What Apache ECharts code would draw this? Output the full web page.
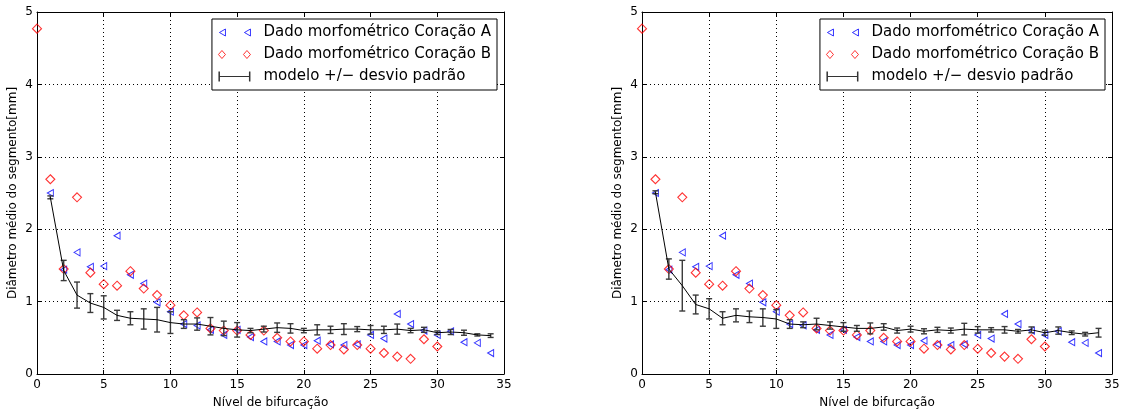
<!DOCTYPE html>
<html><head><meta charset="utf-8">
<script src="https://cdn.jsdelivr.net/npm/echarts@6/dist/echarts.min.js"></script>
<style>html,body{margin:0;padding:0;background:#fff}#c{width:1123px;height:414px}</style>
</head><body><div id="c"></div><script>
// ---- data ----
const levelsA = [1,2,3,4,5,6,7,8,9,10,11,12,13,14,15,16,17,18,19,20,21,22,23,24,25,26,27,28,29,30,31,32,33,34];
const heartA  = [2.50,1.44,1.68,1.48,1.49,1.91,1.37,1.25,0.99,0.86,0.69,0.67,0.61,0.54,0.61,0.51,0.45,0.45,0.40,0.40,0.46,0.41,0.40,0.41,0.54,0.49,0.83,0.69,0.60,0.54,0.59,0.44,0.43,0.29];
const levelsB = [0,1,2,3,4,5,6,7,8,9,10,11,12,13,14,15,16,17,18,19,20,21,22,23,24,25,26,27,28,29,30];
const heartB  = [4.77,2.69,1.45,2.44,1.40,1.24,1.22,1.42,1.18,1.09,0.95,0.81,0.85,0.63,0.60,0.60,0.54,0.60,0.50,0.45,0.45,0.35,0.40,0.34,0.40,0.35,0.29,0.24,0.21,0.48,0.38];
const levelsModel = [1,2,3,4,5,6,7,8,9,10,11,12,13,14,15,16,17,18,19,20,21,22,23,24,25,26,27,28,29,30,31,32,33,34];
// left panel model
const modelLeft = [2.44,1.43,1.09,0.98,0.92,0.81,0.77,0.76,0.75,0.71,0.69,0.69,0.66,0.63,0.61,0.60,0.62,0.64,0.63,0.60,0.61,0.61,0.62,0.62,0.61,0.61,0.62,0.60,0.61,0.57,0.58,0.57,0.54,0.53];
const sdLeft    = [0.02,0.14,0.18,0.13,0.16,0.07,0.09,0.14,0.17,0.15,0.06,0.085,0.12,0.10,0.10,0.03,0.04,0.065,0.065,0.03,0.07,0.05,0.075,0.035,0.06,0.05,0.07,0.03,0.035,0.025,0.035,0.035,0.015,0.025];
// right panel model
const modelRight = [2.51,1.45,1.22,0.96,0.90,0.77,0.81,0.79,0.78,0.76,0.69,0.68,0.69,0.67,0.65,0.63,0.63,0.65,0.60,0.62,0.59,0.61,0.60,0.62,0.61,0.61,0.61,0.59,0.61,0.57,0.60,0.57,0.55,0.57];
const sdRight    = [0.02,0.14,0.35,0.13,0.14,0.09,0.09,0.08,0.12,0.13,0.06,0.04,0.08,0.05,0.06,0.04,0.075,0.045,0.035,0.04,0.035,0.035,0.035,0.08,0.045,0.03,0.045,0.025,0.04,0.035,0.05,0.025,0.025,0.06];
const xTicks = {min:0, max:35, interval:5};
const yTicks = {min:0, max:5, interval:1};
const nameA = 'Dado morfométrico Coração A';
const nameB = 'Dado morfométrico Coração B';
const nameM = 'modelo +/\u2212 desvio padrão';

const FONT = 'DejaVu Sans';
const zip = (xs, ys) => xs.map((x,i)=>[x, ys[i]]);
const zip3 = (xs, ys, ss) => xs.map((x,i)=>[x, ys[i], ss[i]]);

const grids = [
  {left: 37, right: 619, top: 12, bottom: 40},
  {left: 642, right: 11, top: 12, bottom: 40}
];
const xAxes = [], yAxes = [];
grids.forEach((g, gi) => {
  xAxes.push({
    type:'value', gridIndex: gi, position:'bottom', min:xTicks.min, max:xTicks.max, interval:xTicks.interval,
    name:'Nível de bifurcação', nameLocation:'middle', nameGap:23,
    nameTextStyle:{fontFamily:FONT, fontSize:12, color:'#000'},
    axisLine:{show:true, onZero:false, lineStyle:{color:'#000', width:1}},
    axisTick:{show:true, inside:true, length:4, lineStyle:{color:'#000'}},
    axisLabel:{fontFamily:FONT, fontSize:12, color:'#000', margin:5, showMinLabel:true, showMaxLabel:true, hideOverlap:false},
    splitLine:{show:true, lineStyle:{color:'#000', type:[1,3], width:1}}
  });
  xAxes.push({
    type:'value', gridIndex: gi, position:'top', min:xTicks.min, max:xTicks.max, interval:xTicks.interval,
    axisLine:{show:true, onZero:false, lineStyle:{color:'#000', width:1}},
    axisTick:{show:true, inside:true, length:4, lineStyle:{color:'#000'}},
    axisLabel:{show:false}, splitLine:{show:false}
  });
  yAxes.push({
    type:'value', gridIndex: gi, position:'left', min:yTicks.min, max:yTicks.max, interval:yTicks.interval,
    name:'Diâmetro médio do segmento[mm]', nameLocation:'middle', nameGap:18, nameRotate:90,
    nameTextStyle:{fontFamily:FONT, fontSize:12, color:'#000'},
    axisLine:{show:true, onZero:false, lineStyle:{color:'#000', width:1}},
    axisTick:{show:true, inside:true, length:4, lineStyle:{color:'#000'}},
    axisLabel:{fontFamily:FONT, fontSize:12, color:'#000', margin:4, showMinLabel:true, showMaxLabel:true},
    splitLine:{show:true, lineStyle:{color:'#000', type:[1,3], width:1}}
  });
  yAxes.push({
    type:'value', gridIndex: gi, position:'right', min:yTicks.min, max:yTicks.max, interval:yTicks.interval,
    axisLine:{show:true, onZero:false, lineStyle:{color:'#000', width:1}},
    axisTick:{show:true, inside:true, length:4, lineStyle:{color:'#000'}},
    axisLabel:{show:false}, splitLine:{show:false}
  });
});

const triPath = 'path://M0,5 L7,1 L7,9 Z';
function errRender(params, api) {
  const x = api.value(0), y = api.value(1), s = api.value(2);
  const t = api.coord([x, y + s]), b = api.coord([x, y - s]);
  const h = 3;
  const st = {stroke:'#3a3a3a', lineWidth:1.4, fill:null};
  return {type:'group', children:[
    {type:'line', shape:{x1:t[0], y1:t[1], x2:b[0], y2:b[1]}, style:st},
    {type:'line', shape:{x1:t[0]-h, y1:t[1], x2:t[0]+h, y2:t[1]}, style:st},
    {type:'line', shape:{x1:b[0]-h, y1:b[1], x2:b[0]+h, y2:b[1]}, style:st}
  ]};
}

const series = [];
[[modelLeft, sdLeft], [modelRight, sdRight]].forEach(([m, sd], gi) => {
  series.push({
    name:nameA, type:'scatter', xAxisIndex:gi*2, yAxisIndex:gi*2, data:zip(levelsA, heartA),
    symbol:triPath, symbolSize:[6,7], itemStyle:{color:'transparent', borderColor:'#0000ff', borderWidth:1}, z:3
  });
  series.push({
    name:nameB, type:'scatter', xAxisIndex:gi*2, yAxisIndex:gi*2, data:zip(levelsB, heartB),
    symbol:'diamond', symbolSize:[9,9], itemStyle:{color:'transparent', borderColor:'#ff0000', borderWidth:1.1}, z:3
  });
  series.push({
    name:nameM, type:'custom', xAxisIndex:gi*2, yAxisIndex:gi*2, data:zip3(levelsModel, m, sd),
    renderItem: errRender, itemStyle:{color:'#000'}, z:4, animation:false
  });
  series.push({
    name:'modelo (média)', type:'line', xAxisIndex:gi*2, yAxisIndex:gi*2, data:zip(levelsModel, m),
    showSymbol:false, symbol:'none', lineStyle:{color:'#000', width:1}, itemStyle:{color:'#000'}, z:4, animation:false
  });
});

const icoTri = 'path://M0,0 M32,10 M1,5 L7,1.5 L7,8.5 Z M26,5 L32,1.5 L32,8.5 Z';
const icoDia = 'path://M0,0 M32,10 M3.5,1 L7,5 L3.5,9 L0,5 Z M28.5,1 L32,5 L28.5,9 L25,5 Z';
const icoErr = 'path://M0,0 L1.5,0 L1.5,4.4 L30.5,4.4 L30.5,0 L32,0 L32,10 L30.5,10 L30.5,5.6 L1.5,5.6 L1.5,10 L0,10 Z';
function mkLegend(rightPx) {
  return {
    orient:'vertical', right:rightPx, top:19, itemWidth:32, itemHeight:10, itemGap:7,
    padding:[6,6,6,6], borderColor:'#000', borderWidth:1, backgroundColor:'#fff',
    selectedMode:false,
    textStyle:{fontFamily:FONT, fontSize:15, color:'#000', padding:[0,0,0,8]},
    data:[
      {name:nameA, icon:icoTri, itemStyle:{color:'transparent', borderColor:'#0000ff', borderWidth:1}},
      {name:nameB, icon:icoDia, itemStyle:{color:'transparent', borderColor:'#ff0000', borderWidth:1}},
      {name:nameM, icon:icoErr, itemStyle:{color:'#333', borderWidth:0}}
    ]
  };
}

const chart = echarts.init(document.getElementById('c'), null, {renderer:'canvas'});
chart.setOption({
  animation:false,
  backgroundColor:'#fff',
  grid: grids,
  xAxis: xAxes,
  yAxis: yAxes,
  legend: [mkLegend(626), mkLegend(18)],
  series: series
});
</script></body></html>
